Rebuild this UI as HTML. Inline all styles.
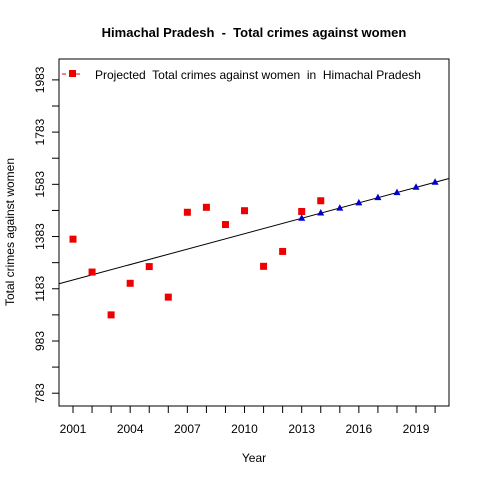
<!DOCTYPE html>
<html><head><meta charset="utf-8"><style>
body{margin:0;background:#fff;}
svg text{font-family:"Liberation Sans",Arial,sans-serif;white-space:pre;}
</style></head><body>
<svg id="c" width="480" height="480" xmlns="http://www.w3.org/2000/svg">
<rect width="480" height="480" fill="#fff"/>
<text x="254" y="37" text-anchor="middle" font-size="13" font-weight="bold">Himachal Pradesh  -  Total crimes against women</text>
<rect x="59" y="59" width="390" height="347" fill="none" stroke="#000"/>
<text x="254" y="462" text-anchor="middle" font-size="12">Year</text>
<text transform="translate(14,232) rotate(-90)" text-anchor="middle" font-size="12">Total crimes against women</text>
<g id="legend">
<line x1="62" y1="74" x2="82" y2="74" stroke="#e00" stroke-dasharray="4,3"/>
<rect x="69" y="70" width="7" height="7" fill="#e00"/>
<text x="95" y="79" font-size="12">Projected  Total crimes against women  in  Himachal Pradesh</text>
</g>
<g id="g"></g>
</svg>
<script>
const years=[2001,2002,2003,2004,2005,2006,2007,2008,2009,2010,2011,2012,2013,2014];
const actual=[1373,1247,1083,1204,1268,1151,1476,1495,1429,1482,1269,1326,1479,1520];
const projYears=[2013,2014,2015,2016,2017,2018,2019,2020];
const projected=[1453,1473,1492,1512,1532,1551,1572,1591];
const fitLine=[1453,19.7]; // value at 2013, slope per year
const xTicks=[2001,2002,2003,2004,2005,2006,2007,2008,2009,2010,2011,2012,2013,2014,2015,2016,2017,2018,2019,2020];
const xLabels=[2001,2004,2007,2010,2013,2016,2019];
const yTicks=[783,883,983,1083,1183,1283,1383,1483,1583,1683,1783,1883,1983];
const yLabels=[783,983,1183,1383,1583,1783,1983];
const X0=59,X1=449,Y0=406,Y1=59;
const xmin=2000.265,xmax=2020.73,ymin=734,ymax=2063;
const sx=v=>X0+(v-xmin)/(xmax-xmin)*(X1-X0);
const sy=v=>Y0-(v-ymin)/(ymax-ymin)*(Y0-Y1);
const g=document.getElementById('g');
const NS='http://www.w3.org/2000/svg';
function mk(t,a){const e=document.createElementNS(NS,t);for(const k in a)e.setAttribute(k,a[k]);g.appendChild(e);return e;}
xTicks.forEach(v=>{const e=mk('line',{x1:sx(v),x2:sx(v),y1:Y0,y2:Y0+7,stroke:'#000'});

});
xLabels.forEach(v=>{const e=mk('text',{x:sx(v),y:Y0+27,'text-anchor':'middle','font-size':12});e.textContent=v;

});
yTicks.forEach(v=>{const e=mk('line',{x1:X0-7,x2:X0,y1:sy(v),y2:sy(v),stroke:'#000'});

});
yLabels.forEach(v=>{const e=mk('text',{'text-anchor':'middle','font-size':12,transform:`translate(${X0-15},${sy(v)}) rotate(-90)`});e.textContent=v;

});
const fv=y=>fitLine[0]+fitLine[1]*(y-2013);
const ln=mk('line',{x1:X0,y1:sy(fv(xmin)),x2:X1,y2:sy(fv(xmax)),stroke:'#000'});


years.forEach((y,i)=>{const e=mk('rect',{x:sx(y)-3.5,y:sy(actual[i])-3.5,width:7,height:7,fill:'#e00'});

});
projYears.forEach((y,i)=>{const cx=sx(y),cy=sy(projected[i]);
const e=mk('polygon',{points:`${cx},${cy-4} ${cx-3.5},${cy+2.5} ${cx+3.5},${cy+2.5}`,fill:'#00c'});

});
</script>
</body></html>
